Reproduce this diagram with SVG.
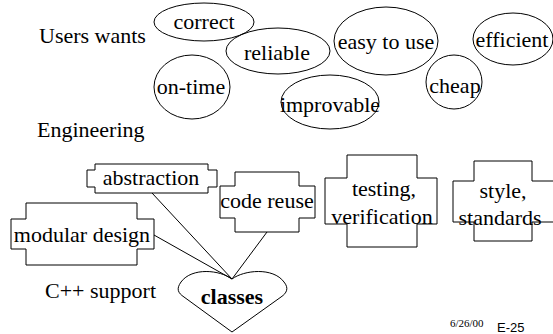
<svg xmlns="http://www.w3.org/2000/svg" width="553" height="334" viewBox="0 0 553 334">
  <style>
    .t { font-family: 'Liberation Serif', Tinos, 'Times New Roman', 'DejaVu Serif', serif; font-size: 22px; fill: #000; }
    .c { text-anchor: middle; }
    .shape { fill: none; stroke: #000; stroke-width: 1; }
    .link { stroke: #000; stroke-width: 1; fill: none; }
    .date { font-family: 'Liberation Serif', Tinos, 'Times New Roman', 'DejaVu Serif', serif; font-size: 11px; }
    .page { font-family: 'Liberation Sans', Arial, sans-serif; font-size: 13px; }
  </style>
  <rect width="553" height="334" fill="#fff"/>

  <!-- section labels -->
  <text class="t" x="39" y="43">Users wants</text>
  <text class="t" x="37" y="137">Engineering</text>
  <text class="t" x="45" y="298">C++ support</text>

  <!-- user wants -->
  <g id="correct">
    <ellipse class="shape" cx="204" cy="22" rx="50" ry="19"/>
    <text class="t c" x="204" y="29">correct</text>
  </g>
  <g id="reliable">
    <ellipse class="shape" cx="278" cy="51" rx="52" ry="23"/>
    <text class="t c" x="277" y="60">reliable</text>
  </g>
  <g id="easy-to-use">
    <ellipse class="shape" cx="386" cy="41" rx="52" ry="34"/>
    <text class="t c" x="386" y="49">easy to use</text>
  </g>
  <g id="efficient">
    <ellipse class="shape" cx="513" cy="39" rx="40" ry="26"/>
    <text class="t c" x="512" y="47">efficient</text>
  </g>
  <g id="on-time">
    <ellipse class="shape" cx="192" cy="87" rx="38" ry="32"/>
    <text class="t c" x="191" y="94">on-time</text>
  </g>
  <g id="cheap">
    <ellipse class="shape" cx="454" cy="82" rx="28" ry="27"/>
    <text class="t c" x="455" y="93">cheap</text>
  </g>
  <g id="improvable">
    <ellipse class="shape" cx="330" cy="102" rx="49" ry="27"/>
    <text class="t c" x="330" y="112">improvable</text>
  </g>

  <!-- connectors into "classes" -->
  <g id="connectors">
    <line class="link" x1="152" y1="193" x2="232" y2="279"/>
    <line class="link" x1="154" y1="235" x2="232" y2="279"/>
    <line class="link" x1="267" y1="232" x2="232" y2="279"/>
  </g>

  <!-- engineering -->
  <g id="abstraction">
    <polygon class="shape" points="95,164 208,164 208,170 217,170 217,187 208,187 208,193 95,193 95,187 87,187 87,170 95,170"/>
    <text class="t c" x="151" y="185">abstraction</text>
  </g>
  <g id="modular-design">
    <polygon class="shape" points="26,203 137,203 137,219 154,219 154,249 137,249 137,265 26,265 26,249 11,249 11,219 26,219"/>
    <text class="t c" x="82" y="242">modular design</text>
  </g>
  <g id="code-reuse">
    <polygon class="shape" points="235,172 299,172 299,186 315,186 315,218 299,218 299,232 235,232 235,218 220,218 220,186 235,186"/>
    <text class="t c" x="267" y="208">code reuse</text>
  </g>
  <g id="testing">
    <polygon class="shape" points="347,155 417,155 417,178 437,178 437,224 417,224 417,247 347,247 347,224 325,224 325,178 347,178"/>
    <text class="t c" x="384" y="196">testing,</text>
    <text class="t c" x="382" y="224">verification</text>
  </g>
  <g id="style">
    <polygon class="shape" points="474,161 532,161 532,181 554,181 554,222 532,222 532,241 474,241 474,222 453,222 453,181 474,181"/>
    <text class="t c" x="503" y="198">style,</text>
    <text class="t c" x="500" y="225">standards</text>
  </g>

  <!-- C++ support -->
  <g id="classes">
    <path class="shape" d="M232,279 C220,270 192,267 181,282 C176,289 178,293 184,297 L232,332 L281,297 C287,293 289,288 284,282 C273,267 244,270 232,279 Z"/>
    <text class="t c" x="232" y="304" font-weight="bold">classes</text>
  </g>

  <!-- footer -->
  <text class="date" x="450" y="327">6/26/00</text>
  <text class="page" x="497" y="332">E-25</text>
</svg>
